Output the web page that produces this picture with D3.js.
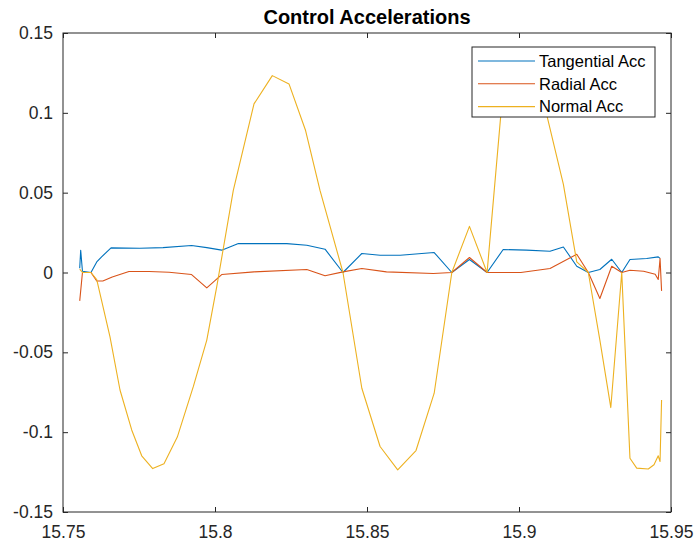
<!DOCTYPE html>
<html>
<head>
<meta charset="utf-8">
<script src="https://cdn.jsdelivr.net/npm/d3@7"></script>
<style>
  html, body { margin: 0; padding: 0; background: #fff; }
  svg { display: block; }
  text { font-family: "Liberation Sans", Arial, Helvetica, sans-serif; }
</style>
</head>
<body>
<svg id="chart" width="696" height="546"></svg>
<script>
// ---------- data ----------
const chartTitle = "Control Accelerations";
const seriesNames = ["Tangential Acc", "Radial Acc", "Normal Acc"];
const xTicks = [15.75, 15.8, 15.85, 15.9, 15.95];
const yTicks = [-0.15, -0.1, -0.05, 0, 0.05, 0.1, 0.15];

const tangT = [15.7555, 15.75582, 15.7564, 15.7592, 15.7611, 15.7627, 15.7658, 15.7753, 15.7829, 15.7923, 15.7973, 15.8022, 15.8077, 15.8236, 15.8302, 15.8362, 15.8421, 15.8483, 15.8543, 15.8609, 15.8721, 15.8779, 15.8837, 15.8895, 15.8948, 15.9025, 15.9102, 15.9146, 15.9190, 15.9228, 15.9266, 15.9305, 15.9338, 15.9365, 15.9420, 15.9458, 15.9464];
const tangV = [0.0027, 0.0139, 0.0008, 0.0, 0.0066, 0.0098, 0.0154, 0.0152, 0.0156, 0.0169, 0.0156, 0.0140, 0.0181, 0.0181, 0.0171, 0.0146, 0.0, 0.0119, 0.0108, 0.0108, 0.0125, 0.0, 0.0081, 0.0, 0.0144, 0.0140, 0.0133, 0.0160, 0.0039, 0.0, 0.0019, 0.0083, 0.0, 0.0081, 0.0088, 0.0098, 0.0088];

const radT = [15.7555, 15.7564, 15.7592, 15.7611, 15.7631, 15.7662, 15.7717, 15.7783, 15.7849, 15.7923, 15.7973, 15.8022, 15.8128, 15.8302, 15.8362, 15.8421, 15.8483, 15.8564, 15.8718, 15.8779, 15.8837, 15.8895, 15.9006, 15.9102, 15.9190, 15.9228, 15.9266, 15.9305, 15.9338, 15.9365, 15.9410, 15.9448, 15.9458, 15.9464, 15.9469];
const radV = [-0.0178, 0.0, 0.0, -0.0053, -0.0053, -0.0028, 0.0006, 0.0006, 0.0002, -0.0013, -0.0096, -0.0013, 0.0004, 0.0019, -0.0020, 0.0004, 0.0025, 0.0004, -0.0006, 0.0, 0.0094, 0.0, 0.0, 0.0025, 0.0114, 0.0, -0.0163, 0.0039, 0.0, 0.0014, 0.0008, -0.0011, -0.0044, 0.0088, -0.0115];

const normT = [15.7555, 15.7564, 15.7592, 15.7611, 15.76546, 15.76875, 15.7726, 15.77589, 15.77951, 15.78322, 15.7876, 15.79286, 15.7973, 15.80056, 15.80602, 15.81283, 15.81885, 15.82434, 15.8298, 15.83454, 15.8421, 15.8483, 15.8543, 15.8601, 15.86612, 15.8721, 15.8779, 15.8837, 15.8895, 15.8948, 15.90033, 15.90526, 15.90855, 15.9146, 15.9190, 15.9228, 15.9266, 15.9302, 15.9338, 15.9365, 15.93872, 15.94253, 15.94441, 15.9458, 15.9464, 15.9469];
const normV = [0.0021, 0.0, 0.0, -0.0044, -0.0403, -0.0736, -0.0986, -0.1148, -0.1228, -0.1198, -0.1031, -0.0715, -0.0423, -0.0090, 0.0514, 0.1056, 0.1233, 0.1181, 0.0889, 0.0514, 0.0, -0.0725, -0.1090, -0.1236, -0.1115, -0.0756, 0.0, 0.0289, 0.0, 0.1158, 0.1296, 0.1264, 0.1033, 0.0552, 0.0066, 0.0, -0.0423, -0.0846, 0.0, -0.1163, -0.1225, -0.1231, -0.1204, -0.1148, -0.1184, -0.0798];

const colors = ["#0072BD", "#D95319", "#EDB120"];

// ---------- layout ----------
const L = 63, R = 671, T = 33, B = 512;
const svg = d3.select("#chart");
const x = d3.scaleLinear().domain([15.75, 15.95]).range([L, R]);
const y = d3.scaleLinear().domain([-0.15, 0.15]).range([B, T]);
const axisColor = "#262626";
const tickFont = "17.5px";

const series = [
  { name: seriesNames[0], t: tangT, v: tangV, color: colors[0] },
  { name: seriesNames[1], t: radT, v: radV, color: colors[1] },
  { name: seriesNames[2], t: normT, v: normV, color: colors[2] }
];

const line = d3.line().x(d => x(d[0])).y(d => y(d[1]));
const plot = svg.append("g");
series.forEach(s => {
  plot.append("path")
    .datum(s.t.map((t, i) => [t, s.v[i]]))
    .attr("fill", "none")
    .attr("stroke", s.color)
    .attr("stroke-width", 1.1)
    .attr("stroke-linejoin", "round")
    .attr("d", line);
});

// axes
function styleAxis(g, showLabels) {
  g.select(".domain").remove();
  g.selectAll(".tick line").attr("stroke", axisColor).attr("stroke-width", 1);
  g.selectAll(".tick text")
    .attr("fill", axisColor)
    .style("font-size", tickFont)
    .style("font-family", '"Liberation Sans", Arial, Helvetica, sans-serif');
  if (!showLabels) g.selectAll(".tick text").remove();
}
const fmt = d => String(+d.toFixed(3));
svg.append("g").attr("transform", `translate(0,${B})`)
  .call(d3.axisBottom(x).tickValues(xTicks).tickFormat(fmt).tickSize(-5).tickPadding(14))
  .call(g => styleAxis(g, true));
svg.append("g").attr("transform", `translate(0,${T})`)
  .call(d3.axisTop(x).tickValues(xTicks).tickSize(-5))
  .call(g => styleAxis(g, false));
svg.append("g").attr("transform", `translate(${L},0)`)
  .call(d3.axisLeft(y).tickValues(yTicks).tickFormat(fmt).tickSize(-5).tickPadding(10))
  .call(g => styleAxis(g, true));
svg.append("g").attr("transform", `translate(${R},0)`)
  .call(d3.axisRight(y).tickValues(yTicks).tickSize(-5))
  .call(g => styleAxis(g, false));

// box
svg.append("rect")
  .attr("x", L).attr("y", T).attr("width", R - L).attr("height", B - T)
  .attr("fill", "none").attr("stroke", axisColor).attr("stroke-width", 1);

// title
svg.append("text")
  .attr("x", (L + R) / 2).attr("y", 23.5)
  .attr("text-anchor", "middle")
  .attr("font-weight", "bold")
  .style("font-size", "20px")
  .attr("fill", "#000")
  .text(chartTitle);

// legend
const lg = svg.append("g");
const lgX = 472, lgY = 47, lgW = 183, lgH = 70;
lg.append("rect").attr("x", lgX).attr("y", lgY).attr("width", lgW).attr("height", lgH)
  .attr("fill", "#fff").attr("stroke", axisColor).attr("stroke-width", 1);
series.forEach((s, i) => {
  const cy = 61 + i * 22.8;
  lg.append("line").attr("x1", 478).attr("x2", 535).attr("y1", cy).attr("y2", cy)
    .attr("stroke", s.color).attr("stroke-width", 1.1);
  lg.append("text").attr("x", 539).attr("y", cy).attr("dy", "0.35em")
    .style("font-size", "16.5px").attr("fill", "#000").text(s.name);
});
</script>
</body>
</html>
